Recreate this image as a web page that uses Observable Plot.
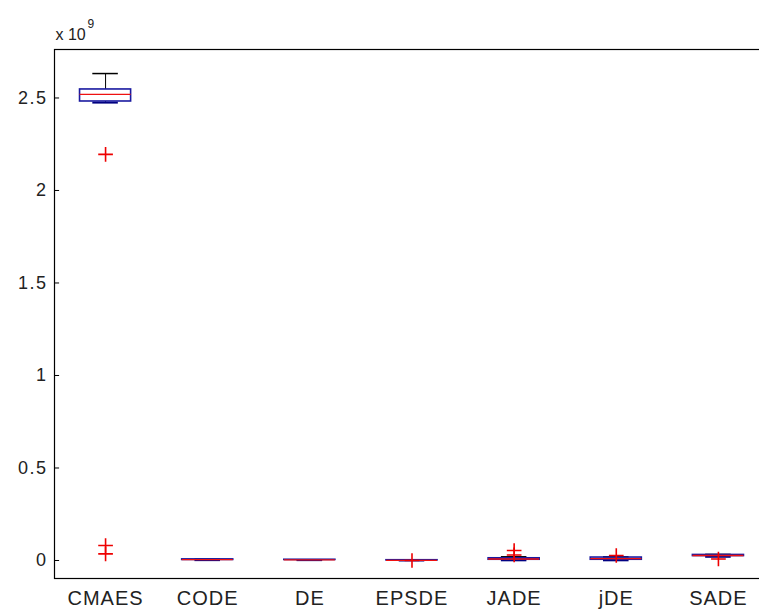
<!DOCTYPE html>
<html>
<head>
<meta charset="utf-8">
<script src="https://cdn.jsdelivr.net/npm/d3@7"></script>
<script src="https://cdn.jsdelivr.net/npm/@observablehq/plot@0.6"></script>
<style>
  body { margin: 0; background: #fff; }
  #chart svg { display: block; overflow: hidden; }
  g[aria-label="x-axis tick label"] text { letter-spacing: 1px; }
  g[aria-label="y-axis tick label"] text { letter-spacing: 1.5px; }
</style>
</head>
<body>
<div id="chart"></div>
<script>
// Algorithms (categories)
const algorithms = ["CMAES", "CODE", "DE", "EPSDE", "JADE", "jDE", "SADE"];
// Box statistics, units of 1e9
const q1 =        [2.481, 0.003, 0.003, 0.0005, 0.004, 0.004, 0.024];
const medians =   [2.519, 0.005, 0.003, 0.001,  0.008, 0.010, 0.027];
const q3 =        [2.546, 0.006, 0.004, 0.0015, 0.012, 0.016, 0.030];
const whiskLow =  [2.475, 0.002, 0.002, 0.000,  0.001, 0.001, 0.020];
const whiskHigh = [2.632, 0.007, 0.004, 0.002,  0.020, 0.020, 0.033];
const outliers =  [[2.195, 0.081, 0.036], [], [], [0.000], [0.054, 0.030], [0.027], [0.008]];
// Y-axis ticks (units of 1e9) and exponent label
const yTicks = [0, 0.5, 1, 1.5, 2, 2.5];
const exponentBase = "x 10";
const exponentPower = "9";

const scale = 1e9;
const boxes = algorithms.map((name, i) => ({
  name, pos: i + 1,
  q1: q1[i] * scale, med: medians[i] * scale, q3: q3[i] * scale,
  lo: whiskLow[i] * scale, hi: whiskHigh[i] * scale
}));
const outlierData = outliers.flatMap((arr, i) => arr.map(v => ({pos: i + 1, v: v * scale})));
const tickData = yTicks.map(t => t * scale);

const halfBox = 0.25, halfCap = 0.125, tickLen = 0.05;

const chart = Plot.plot({
  width: 759,
  height: 612,
  marginLeft: 54,
  marginRight: -10,
  marginTop: 49,
  marginBottom: 34,
  style: {fontFamily: "'Liberation Sans', Arial, sans-serif", color: "#222", background: "#fff"},
  x: {type: "linear", domain: [0.5, 7.5]},
  y: {domain: [-0.0973 * scale, 2.762 * scale]},
  marks: [
    // whiskers
    Plot.ruleX(boxes, {x: "pos", y1: "q3", y2: "hi", stroke: "#000", strokeWidth: 1}),
    Plot.ruleX(boxes, {x: "pos", y1: "q1", y2: "lo", stroke: "#000", strokeWidth: 1}),
    // caps
    Plot.ruleY(boxes, {y: "hi", x1: d => d.pos - halfCap, x2: d => d.pos + halfCap, stroke: "#000", strokeWidth: 1.5}),
    Plot.ruleY(boxes, {y: "lo", x1: d => d.pos - halfCap, x2: d => d.pos + halfCap, stroke: "#000080", strokeWidth: 2}),
    // boxes
    Plot.rect(boxes, {x1: d => d.pos - halfBox, x2: d => d.pos + halfBox, y1: "q1", y2: "q3", stroke: "#1a1aa0", fill: "none", strokeWidth: 1.6}),
    // medians
    Plot.ruleY(boxes, {y: "med", x1: d => d.pos - halfBox, x2: d => d.pos + halfBox, stroke: "#ee1111", strokeWidth: 1.3}),
    // outliers
    Plot.dot(outlierData, {x: "pos", y: "v", symbol: "plus", r: 4.8, stroke: "#ee0000", strokeWidth: 1.6}),
    // frame
    Plot.frame({stroke: "#000", strokeWidth: 1.2}),
    // inward y ticks, left and right
    Plot.ruleY(tickData, {x1: 0.5, x2: 0.5 + tickLen, stroke: "#000"}),
    Plot.ruleY(tickData, {x1: 7.5 - tickLen, x2: 7.5, stroke: "#000"}),
    Plot.axisY({ticks: tickData, tickSize: 0, tickPadding: 7, fontSize: 18, tickFormat: d => d3.format("")(d / scale), label: null}),
    Plot.axisX({ticks: d3.range(1, algorithms.length + 1), tickSize: 0, tickPadding: 12, fontSize: 20, tickFormat: d => algorithms[d - 1], label: null}),
    // exponent label
    Plot.text([exponentBase], {text: d => d, frameAnchor: "top-left", textAnchor: "start", lineAnchor: "bottom", dy: -10, dx: 1, fontSize: 16, fill: "#222"}),
    Plot.text([exponentPower], {text: d => d, frameAnchor: "top-left", textAnchor: "start", lineAnchor: "bottom", dy: -22, dx: 33, fontSize: 12, fill: "#222"})
  ]
});
document.getElementById("chart").appendChild(chart);
</script>
</body>
</html>
